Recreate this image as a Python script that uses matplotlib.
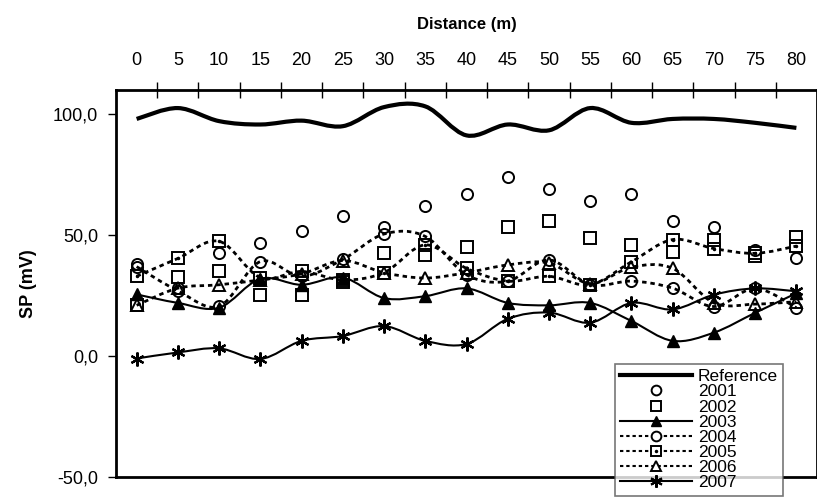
import numpy as np
import matplotlib.pyplot as plt
from matplotlib.path import Path
from matplotlib.patches import PathPatch
from matplotlib.lines import Line2D
from matplotlib.legend_handler import HandlerTuple

plt.rcParams['font.family'] = ['Liberation Sans', 'DejaVu Sans']

## data
distance = [0, 5, 10, 15, 20, 25, 30, 35, 40, 45, 50, 55, 60, 65, 70, 75, 80]
reference = [98.1, 102.6, 97.2, 95.8, 97.4, 95.1, 103.0, 103.3, 91.3, 95.8,
             93.4, 102.6, 96.5, 98.1, 98.1, 96.5, 94.4]
sp_2001 = [38.0, 28.0, 42.5, 46.8, 51.6, 57.8, 53.4, 62.0, 67.0, 74.0,
           69.0, 64.3, 67.0, 56.0, 53.4, 44.0, 40.4]
sp_2002 = [21.0, 32.9, 35.2, 25.4, 25.4, 30.5, 42.7, 42.0, 45.0, 53.4,
           56.0, 49.0, 46.0, 43.2, 48.2, 41.5, 49.3]
sp_2003 = [25.5, 22.0, 20.0, 32.0, 29.5, 32.5, 24.0, 24.8, 28.0, 22.0,
           21.0, 22.0, 14.5, 6.3, 9.7, 17.9, 26.0]
sp_2004 = [37.0, 27.0, 20.6, 39.1, 33.0, 40.0, 50.5, 49.5, 33.6, 31.0,
           39.8, 29.5, 31.0, 28.1, 20.5, 28.0, 20.0]
sp_2005 = [33.0, 40.4, 47.5, 32.5, 35.0, 31.5, 34.5, 46.0, 36.3, 31.0,
           33.0, 29.5, 39.0, 48.2, 44.5, 42.5, 45.5]
sp_2006 = [21.0, 28.1, 29.5, 31.5, 34.0, 39.5, 34.5, 32.3, 34.5, 37.7,
           38.5, 30.0, 36.8, 36.3, 22.0, 21.5, 22.5]
sp_2007 = [-1.0, 1.5, 3.2, -1.2, 6.3, 8.3, 12.4, 6.3, 5.0, 15.4,
           18.0, 13.8, 22.0, 19.3, 25.4, 28.0, 26.8]

ytick_values = [-50, 0, 50, 100]
ytick_labels = ['-50,0', '0,0', '50,0', '100,0']


## smoothed line (like excel) from catmull-rom -> bezier
def smooth_path(x, y):
    px = np.concatenate([[x[0]], x, [x[-1]]]).astype(float)
    py = np.concatenate([[y[0]], y, [y[-1]]]).astype(float)
    verts = [(px[1], py[1])]
    codes = [Path.MOVETO]
    for i in range(len(x) - 1):
        c1 = (px[i+1] + (px[i+2] - px[i]) / 6, py[i+1] + (py[i+2] - py[i]) / 6)
        c2 = (px[i+2] - (px[i+3] - px[i+1]) / 6, py[i+2] - (py[i+3] - py[i+1]) / 6)
        verts += [c1, c2, (px[i+2], py[i+2])]
        codes += [Path.CURVE4] * 3
    return Path(verts, codes)


def add_line(ax, x, y, lw, ls, z):
    ax.add_patch(PathPatch(smooth_path(x, y), facecolor='none', edgecolor='black',
                           lw=lw, linestyle=ls, zorder=z, capstyle='butt'))


dots = (0, (1.6, 1.4))
fig = plt.figure(figsize=(8.17, 5.01), dpi=100)
ax = fig.add_axes([0.142, 0.048, 0.858, 0.772])

add_line(ax, distance, reference, 3.0, '-', 2)
ax.plot(distance, sp_2001, linestyle='none', marker='o', mfc='none', mec='black',
        ms=8, mew=1.4, zorder=3)
ax.plot(distance, sp_2002, linestyle='none', marker='s', mfc='none', mec='black',
        ms=8, mew=1.4, zorder=3)
add_line(ax, distance, sp_2003, 1.5, '-', 2)
ax.plot(distance, sp_2003, linestyle='none', marker='^', color='black', ms=8, zorder=3)
add_line(ax, distance, sp_2004, 2.0, dots, 2)
ax.plot(distance, sp_2004, linestyle='none', marker='o', mfc='none', mec='black',
        ms=8, mew=1.4, zorder=3)
add_line(ax, distance, sp_2005, 2.0, dots, 2)
ax.plot(distance, sp_2005, linestyle='none', marker='s', mfc='none', mec='black',
        ms=8, mew=1.4, zorder=3)
ax.plot(distance, sp_2005, linestyle='none', marker='.', color='black', ms=3, zorder=3)
add_line(ax, distance, sp_2006, 2.0, dots, 2)
ax.plot(distance, sp_2006, linestyle='none', marker='^', mfc='none', mec='black',
        ms=8, mew=1.4, zorder=3)
add_line(ax, distance, sp_2007, 1.5, '-', 2)
ax.plot(distance, sp_2007, linestyle='none', marker=(6, 2, 0), color='black',
        ms=10, mew=1.6, zorder=3)

ax.set_xlim(-2.5, 82.5)
ax.set_ylim(-50, 110)

## axis at top, ticks between categories
ax.xaxis.tick_top()
ax.xaxis.set_label_position('top')
ax.set_xticks(distance)
ax.set_xticklabels([str(d) for d in distance])
ax.set_xticks([d + 2.5 for d in distance[:-1]], minor=True)
ax.tick_params(axis='x', which='major', length=0, pad=15, labelsize=13)
ax.tick_params(axis='x', which='minor', direction='inout', length=12, width=1)
ax.set_yticks(ytick_values)
ax.set_yticklabels(ytick_labels)
ax.tick_params(axis='y', which='major', direction='out', length=6, width=1,
               pad=7, labelsize=13)
ax.set_xlabel('Distance (m)', fontsize=12, fontweight='bold', labelpad=17)
ax.set_ylabel('SP (mV)', fontsize=13, fontweight='bold', labelpad=11)
for s in ax.spines.values():
    s.set_linewidth(2)

## legend
h_ref = Line2D([], [], color='black', lw=3)
h01 = Line2D([], [], linestyle='none', marker='o', mfc='none', mec='black', ms=7, mew=1.4)
h02 = Line2D([], [], linestyle='none', marker='s', mfc='none', mec='black', ms=7, mew=1.4)
h03 = Line2D([], [], color='black', lw=1.5, marker='^', ms=7)
h04 = Line2D([], [], color='black', lw=1.5, ls=dots, marker='o', mfc='white', mec='black', ms=7, mew=1.4)
h05a = Line2D([], [], color='black', lw=1.5, ls=dots, marker='s', mfc='white', mec='black', ms=7, mew=1.4)
h05b = Line2D([], [], linestyle='none', marker='.', color='black', ms=3)
h06 = Line2D([], [], color='black', lw=1.5, ls=dots, marker='^', mfc='white', mec='black', ms=7, mew=1.4)
h07 = Line2D([], [], color='black', lw=1.5, marker=(6, 2, 0), ms=9, mew=1.5)
leg = fig.legend([h_ref, h01, h02, h03, h04, (h05a, h05b), h06, h07],
                 ['Reference', '2001', '2002', '2003', '2004', '2005', '2006', '2007'],
                 handler_map={tuple: HandlerTuple(ndivide=1)},
                 loc='upper left', bbox_to_anchor=(0.753, 0.2735), borderaxespad=0,
                 fontsize=12.5, labelspacing=0.0, handlelength=4.1, handletextpad=0.35,
                 borderpad=0.3, frameon=True, fancybox=False)
leg.get_frame().set_edgecolor('#555555')
leg.get_frame().set_linewidth(1.2)

plt.savefig('out.png', dpi=100)
